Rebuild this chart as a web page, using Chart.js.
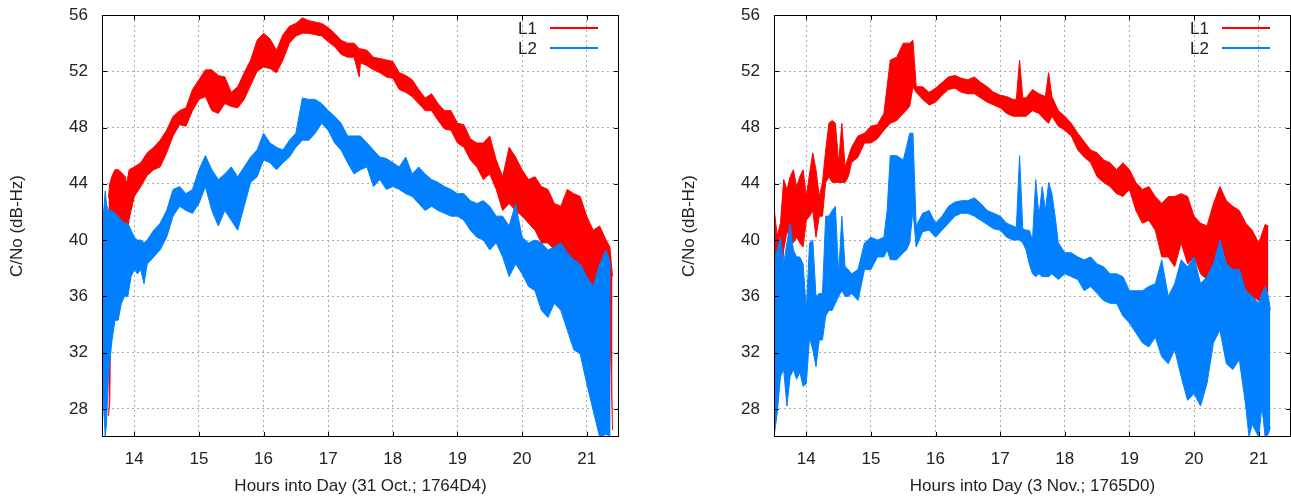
<!DOCTYPE html>
<html>
<head>
<meta charset="utf-8">
<title>C/No L1 L2</title>
<script src="https://cdn.jsdelivr.net/npm/chart.js@4.4.1/dist/chart.umd.min.js"></script>
<style>
  body { margin: 0; background: #fff; }
  canvas { position: absolute; top: 0; }
  #chartOct { left: 0; }
  #chartNov { left: 672px; }
</style>
</head>
<body>
<canvas id="chartOct" width="620" height="500"></canvas>
<canvas id="chartNov" width="620" height="500"></canvas>
<script>
// tick labels
const hourTicks = [14, 15, 16, 17, 18, 19, 20, 21];
const cnoTicks = [28, 32, 36, 40, 44, 48, 52, 56];

// 31 Oct, 1764D4 - L1 noise band (low / high edge)
const octL1Hours = [13.60, 13.62, 13.65, 13.70, 13.75, 13.80, 13.86, 13.88, 13.92,
  14.0, 14.1, 14.2, 14.3, 14.4, 14.5, 14.6, 14.7, 14.8, 14.9, 15.0, 15.1, 15.2, 15.3, 15.4, 15.5, 15.6, 15.7, 15.8, 15.9,
  16.0, 16.1, 16.2, 16.3, 16.4, 16.5, 16.6, 16.7, 16.8, 16.9, 17.0, 17.1, 17.2, 17.3, 17.4, 17.48,
  17.5, 17.6, 17.7, 17.8, 17.9, 18.0, 18.1, 18.2, 18.3, 18.4, 18.5, 18.6, 18.7, 18.8, 18.9,
  19.0, 19.1, 19.2, 19.3, 19.4, 19.5, 19.6, 19.7, 19.8, 19.9, 20.0, 20.1, 20.2, 20.3, 20.4, 20.5, 20.6, 20.7, 20.8, 20.9,
  21.0, 21.1, 21.2, 21.3, 21.36, 21.4];
const octL1High = [43.0, 44.0, 44.5, 45.0, 45.0, 44.8, 44.5, 44.0, 45.0,
  45.2, 45.5, 46.2, 46.6, 47.1, 47.8, 48.8, 49.2, 49.4, 50.7, 51.4, 52.1, 52.1, 51.7, 51.6, 50.5, 50.9, 51.9, 52.8, 54.2,
  54.7, 54.3, 53.5, 54.6, 55.2, 55.4, 55.8, 55.6, 55.5, 55.4, 55.1, 54.7, 54.2, 54.0, 54.0, 53.6,
  53.6, 53.5, 53.0, 52.9, 52.8, 52.7, 51.9, 51.7, 51.4, 50.7, 50.1, 50.4, 49.7, 49.2, 49.2,
  48.3, 48.2, 47.2, 46.9, 46.9, 47.4, 45.7, 44.5, 46.6, 45.9, 45.0, 44.3, 44.5, 43.8, 43.6, 42.6, 42.4, 43.6, 43.3, 43.1,
  41.7, 40.7, 41.0, 40.0, 39.5, 37.4];
const octL1Low = [27.5, 28.5, 40.5, 41.0, 41.5, 41.0, 41.2, 40.0, 41.5,
  43.1, 43.8, 44.6, 45.0, 45.2, 46.2, 47.4, 48.2, 48.1, 49.2, 50.0, 50.2, 49.2, 49.0, 49.7, 49.5, 49.4, 50.0, 51.0, 52.0,
  52.3, 52.2, 51.9, 52.8, 54.0, 54.5, 54.7, 54.7, 54.6, 54.5, 54.1, 53.75, 53.2, 53.0, 53.0, 51.6,
  52.6, 52.4, 52.1, 51.9, 51.6, 51.5, 50.7, 50.5, 50.2, 49.7, 49.2, 49.2, 48.5, 47.9, 47.8,
  46.9, 46.6, 45.7, 45.2, 44.3, 44.7, 43.6, 42.1, 42.6, 42.1, 41.7, 41.2, 40.7, 39.8, 39.8, 39.3, 39.3, 38.8, 38.3, 37.6,
  37.4, 36.0, 35.7, 36.4, 34.0, 26.5];

// 31 Oct - L2
const octL2Hours = [13.50, 13.52, 13.55, 13.57, 13.60, 13.65, 13.70, 13.75, 13.80, 13.85, 13.90, 13.95,
  14.0, 14.05, 14.1, 14.15, 14.2, 14.3, 14.4, 14.5, 14.6, 14.7, 14.8, 14.9,
  15.0, 15.1, 15.2, 15.3, 15.4, 15.5, 15.6, 15.7, 15.8, 15.9, 16.0, 16.1, 16.2, 16.3, 16.4, 16.5, 16.6, 16.7, 16.8, 16.9,
  17.0, 17.1, 17.2, 17.3, 17.4, 17.5, 17.6, 17.7, 17.8, 17.9, 18.0, 18.1, 18.2, 18.3, 18.4, 18.5, 18.6, 18.7, 18.8, 18.9,
  19.0, 19.1, 19.2, 19.3, 19.4, 19.5, 19.6, 19.7, 19.8, 19.9, 20.0, 20.1, 20.2, 20.3, 20.4, 20.5, 20.6, 20.7, 20.8, 20.9,
  21.0, 21.1, 21.2, 21.3, 21.37];
const octL2High = [40.0, 41.7, 43.5, 42.5, 42.1, 42.1, 41.9, 41.7, 41.4, 41.2, 41.2, 40.7,
  40.2, 40.0, 40.0, 39.8, 40.0, 40.7, 41.2, 42.1, 43.6, 43.8, 43.3, 43.6,
  45.0, 46.0, 45.0, 44.3, 44.7, 45.2, 44.5, 45.2, 45.9, 46.4, 47.6, 46.9, 46.6, 46.4, 47.1, 47.6, 50.1, 50.0, 50.0, 49.7,
  49.2, 48.8, 48.3, 47.4, 47.4, 47.4, 46.9, 46.4, 45.9, 45.8, 45.5, 45.2, 45.9, 44.7, 45.2, 44.7, 44.3, 44.1, 43.8, 43.6,
  43.3, 43.3, 42.8, 42.6, 42.8, 42.4, 41.7, 41.7, 41.0, 42.6, 40.2, 39.8, 40.0, 39.8, 39.3, 39.5, 39.8, 39.1, 38.6, 38.3,
  37.4, 36.7, 38.3, 39.3, 38.3];
const octL2Low = [29.8, 28.6, 26.0, 27.0, 30.3, 32.7, 34.3, 34.3, 35.5, 36.0, 36.0, 37.4,
  37.9, 37.6, 37.9, 36.9, 38.3, 38.8, 39.3, 40.2, 41.7, 42.4, 42.1, 41.9,
  42.6, 43.8, 42.1, 41.0, 42.1, 41.4, 40.7, 42.4, 44.1, 44.5, 45.7, 45.5, 45.0, 45.5, 45.9, 46.6, 47.1, 47.1, 47.6, 48.3,
  47.8, 46.9, 46.4, 45.5, 44.7, 45.0, 45.2, 43.8, 44.3, 43.6, 43.8, 43.6, 43.3, 43.1, 42.6, 42.1, 42.4, 42.1, 41.9, 41.7,
  41.7, 41.4, 40.7, 40.2, 40.0, 39.3, 39.8, 38.8, 37.4, 38.3, 37.6, 36.7, 36.4, 35.0, 34.5, 35.5, 35.0, 33.6, 32.2, 31.9,
  29.8, 27.9, 26.0, 26.2, 26.0];

// 3 Nov, 1765D0 - L1
const novL1Hours = [13.50, 13.55, 13.60, 13.65, 13.70, 13.75, 13.80, 13.85, 13.90, 13.95,
  14.0, 14.05, 14.1, 14.15, 14.2, 14.25, 14.3, 14.35, 14.4, 14.45, 14.5, 14.55, 14.6, 14.65, 14.7, 14.8, 14.9,
  15.0, 15.1, 15.2, 15.3, 15.4, 15.5, 15.6, 15.65, 15.7, 15.8, 15.9,
  16.0, 16.1, 16.2, 16.3, 16.4, 16.5, 16.6, 16.7, 16.8, 16.9,
  17.0, 17.1, 17.2, 17.25, 17.3, 17.35, 17.4, 17.5, 17.6, 17.7, 17.75, 17.8, 17.9,
  18.0, 18.1, 18.2, 18.3, 18.4, 18.5, 18.6, 18.7, 18.8, 18.9,
  19.0, 19.1, 19.2, 19.3, 19.4, 19.5, 19.6, 19.7, 19.8, 19.9,
  20.0, 20.1, 20.2, 20.3, 20.4, 20.5, 20.6, 20.7, 20.8, 20.9, 21.0, 21.1, 21.15];
const novL1High = [42.3, 40.3, 41.2, 44.3, 43.6, 44.5, 45.0, 43.8, 44.5, 45.0,
  43.1, 44.7, 46.2, 45.0, 43.1, 44.1, 46.4, 48.3, 48.5, 48.3, 45.5, 48.3, 45.2, 45.9, 46.6, 47.4, 47.6,
  48.1, 48.2, 49.0, 52.8, 53.0, 54.0, 54.0, 54.2, 50.9, 50.9, 50.5,
  50.8, 51.2, 51.6, 51.7, 51.5, 51.4, 51.6, 51.2, 50.9, 50.5,
  50.3, 50.2, 50.0, 50.0, 52.8, 50.1, 50.1, 50.7, 50.4, 50.2, 51.9, 50.2, 49.2,
  48.8, 48.3, 47.6, 47.0, 46.4, 46.2, 45.7, 45.5, 45.0, 45.5,
  45.0, 44.1, 43.6, 43.8, 43.1, 42.6, 43.1, 43.1, 43.3, 43.1,
  41.7, 41.2, 41.0, 42.6, 43.8, 42.8, 42.4, 42.1, 41.2, 40.7, 39.8, 41.1, 41.0];
const novL1Low = [38.3, 36.0, 36.0, 39.3, 40.6, 40.2, 39.8, 40.2, 39.8, 39.5,
  41.4, 41.7, 42.1, 40.2, 41.7, 41.7, 44.1, 44.5, 44.1, 44.1, 44.1, 44.1, 44.1, 44.5, 45.5, 45.9, 46.9,
  46.9, 47.2, 47.8, 48.3, 48.5, 49.0, 49.5, 50.9, 50.5, 50.0, 49.6,
  49.8, 50.3, 50.7, 50.8, 50.5, 50.4, 50.4, 50.1, 49.8, 49.6,
  49.4, 49.0, 48.8, 48.8, 48.8, 48.8, 48.8, 49.2, 49.0, 48.5, 48.3, 48.8, 48.1,
  47.8, 47.4, 46.4, 45.9, 45.5, 44.5, 44.1, 43.8, 43.3, 43.1,
  43.6, 42.1, 41.2, 41.4, 40.7, 38.8, 38.8, 38.1, 39.8, 38.3,
  38.8, 37.6, 37.2, 38.3, 39.8, 38.3, 37.9, 36.7, 36.4, 36.0, 35.7, 36.2, 34.6];

// 3 Nov - L2
const novL2Hours = [13.50, 13.55, 13.60, 13.65, 13.70, 13.75, 13.80, 13.85, 13.90, 13.95,
  14.0, 14.05, 14.1, 14.15, 14.2, 14.25, 14.3, 14.35, 14.4, 14.45, 14.5, 14.55, 14.6, 14.65, 14.7, 14.8, 14.9,
  15.0, 15.1, 15.2, 15.25, 15.3, 15.4, 15.5, 15.55, 15.6, 15.65, 15.7, 15.8, 15.9,
  16.0, 16.1, 16.2, 16.3, 16.4, 16.5, 16.6, 16.7, 16.8, 16.9,
  17.0, 17.1, 17.2, 17.25, 17.3, 17.35, 17.4, 17.45, 17.5, 17.55, 17.6, 17.65, 17.7, 17.75, 17.8, 17.85, 17.9,
  18.0, 18.1, 18.2, 18.3, 18.4, 18.5, 18.6, 18.7, 18.8, 18.9,
  19.0, 19.1, 19.2, 19.3, 19.4, 19.5, 19.6, 19.7, 19.8, 19.9,
  20.0, 20.1, 20.2, 20.3, 20.4, 20.5, 20.6, 20.7, 20.8, 20.85, 20.9,
  21.0, 21.05, 21.1, 21.15, 21.18];
const novL2High = [38.6, 39.3, 40.2, 38.3, 39.8, 41.2, 39.3, 38.8, 38.8, 38.3,
  35.0, 39.8, 40.0, 36.0, 36.2, 36.2, 41.7, 41.7, 42.1, 42.4, 37.6, 41.7, 38.1, 37.9, 37.6, 37.9, 39.8,
  40.2, 40.0, 40.2, 42.1, 46.0, 46.0, 45.7, 46.6, 47.6, 47.6, 41.0, 41.9, 42.1,
  41.2, 41.7, 42.4, 42.7, 42.8, 42.8, 43.0, 42.6, 42.1, 41.9,
  41.7, 41.2, 41.0, 40.9, 46.0, 40.8, 40.7, 40.7, 40.0, 44.3, 41.7, 43.8, 42.1, 44.1, 43.3, 41.7, 39.8,
  39.1, 39.1, 38.8, 38.6, 38.8, 38.3, 38.1, 37.6, 37.6, 37.4,
  36.4, 36.4, 36.4, 36.7, 36.9, 38.6, 36.0, 36.9, 38.6, 38.1,
  38.8, 36.9, 37.4, 38.3, 40.0, 38.3, 37.9, 37.9, 36.4, 36.2, 36.0,
  35.5, 36.2, 36.7, 36.0, 35.0];
const novL2Low = [26.0, 27.7, 30.3, 30.8, 28.2, 30.3, 30.8, 30.1, 30.6, 29.6,
  29.8, 33.1, 32.2, 31.0, 32.9, 32.9, 34.6, 35.0, 35.0, 35.5, 36.0, 36.4, 36.0, 36.0, 36.2, 35.7, 37.9,
  37.9, 38.8, 38.8, 39.3, 38.6, 38.6, 39.1, 39.3, 39.8, 42.1, 39.5, 40.6, 40.7,
  40.2, 40.7, 41.2, 41.7, 41.9, 41.9, 41.7, 41.4, 41.1, 40.8,
  40.7, 40.2, 40.0, 40.0, 40.0, 39.8, 39.3, 38.3, 37.6, 37.4, 37.6, 37.4, 37.4, 37.4, 37.6, 37.4, 37.2,
  37.6, 37.4, 37.2, 36.4, 36.7, 36.2, 35.7, 35.5, 35.5, 34.6,
  34.1, 33.4, 32.7, 32.4, 33.1, 31.7, 31.2, 32.2, 30.3, 28.6,
  29.1, 28.2, 29.8, 32.7, 33.6, 31.2, 30.8, 31.5, 28.2, 26.0, 26.9,
  26.0, 28.2, 26.0, 26.2, 26.7];

const red = '#ff0000';
const blue = '#0080ff';
const textColor = '#222';
const fontFamily = '"Liberation Sans", Arial, sans-serif';

const toPoints = (hours, vals) => hours.map((h, i) => ({ x: h, y: vals[i] }));

// frame, inward tick marks and gnuplot-style key
const framePlugin = {
  id: 'frame',
  afterDraw(chart) {
    const { ctx, chartArea: a, scales: { x, y } } = chart;
    ctx.save();
    ctx.strokeStyle = '#000';
    ctx.lineWidth = 1;
    ctx.strokeRect(Math.round(a.left) + 0.5, Math.round(a.top) + 0.5,
      Math.round(a.right - a.left) - 1, Math.round(a.bottom - a.top) - 1);
    ctx.beginPath();
    hourTicks.forEach(v => {
      const px = Math.round(x.getPixelForValue(v)) + 0.5;
      ctx.moveTo(px, a.bottom); ctx.lineTo(px, a.bottom - 5);
      ctx.moveTo(px, a.top); ctx.lineTo(px, a.top + 5);
    });
    cnoTicks.forEach(v => {
      const py = Math.round(y.getPixelForValue(v)) + 0.5;
      ctx.moveTo(a.left, py); ctx.lineTo(a.left + 5, py);
      ctx.moveTo(a.right, py); ctx.lineTo(a.right - 5, py);
    });
    ctx.stroke();

    // key
    ctx.font = '17px ' + fontFamily;
    ctx.textAlign = 'right';
    ctx.textBaseline = 'middle';
    const keys = chart.data.datasets.filter(d => d.key);
    keys.forEach((d, i) => {
      const ky = a.top + 13 + i * 20;
      ctx.fillStyle = textColor;
      ctx.fillText(d.label, a.right - 82, ky + 1);
      ctx.strokeStyle = d.borderColor;
      ctx.lineWidth = 2;
      ctx.beginPath();
      ctx.moveTo(a.right - 69, ky);
      ctx.lineTo(a.right - 21, ky);
      ctx.stroke();
    });
    ctx.restore();
  }
};

function makeChart(id, xTitle, l1h, l1lo, l1hi, l2h, l2lo, l2hi) {
  const band = (label, color, data, fill, order, key) => ({
    label: label,
    data: data,
    borderColor: color,
    backgroundColor: color,
    borderWidth: 1,
    pointRadius: 0,
    tension: 0,
    fill: fill,
    order: order,
    key: key
  });
  return new Chart(document.getElementById(id).getContext('2d'), {
    type: 'line',
    data: {
      datasets: [
        band('L1', red, toPoints(l1h, l1hi), false, 2, true),
        band('L1 low', red, toPoints(l1h, l1lo), '-1', 2, false),
        band('L2', blue, toPoints(l2h, l2hi), false, 1, true),
        band('L2 low', blue, toPoints(l2h, l2lo), '-1', 1, false)
      ]
    },
    options: {
      responsive: false,
      animation: false,
      layout: { padding: { left: 0, top: 15, right: 1, bottom: 0 } },
      plugins: { legend: { display: false }, tooltip: { enabled: false } },
      scales: {
        x: {
          type: 'linear',
          min: 13.5,
          max: 21.5,
          afterBuildTicks: s => { s.ticks = hourTicks.map(v => ({ value: v })); },
          afterFit: s => { s.height = 63; s.paddingLeft = 0; s.paddingRight = 0; },
          grid: { color: '#aaaaaa', drawTicks: false },
          border: { display: false, dash: [2, 3] },
          ticks: { color: textColor, padding: 12, autoSkip: false, maxRotation: 0,
                   font: { family: fontFamily, size: 17 } },
          title: { display: true, text: xTitle, color: textColor, padding: { top: 0, bottom: 3 },
                   font: { family: fontFamily, size: 17 } }
        },
        y: {
          min: 26,
          max: 56,
          afterBuildTicks: s => { s.ticks = cnoTicks.map(v => ({ value: v })); },
          afterFit: s => { s.width = 102; s.paddingTop = 0; s.paddingBottom = 0; },
          grid: { color: '#aaaaaa', drawTicks: false },
          border: { display: false, dash: [2, 3] },
          ticks: { color: textColor, padding: 14, autoSkip: false,
                   font: { family: fontFamily, size: 17 } },
          title: { display: true, text: 'C/No (dB-Hz)', color: textColor, padding: { top: 7, bottom: 0 },
                   font: { family: fontFamily, size: 17 } }
        }
      }
    },
    plugins: [framePlugin]
  });
}

window.addEventListener('load', () => {
  makeChart('chartOct', 'Hours into Day (31 Oct.; 1764D4)',
    octL1Hours, octL1Low, octL1High, octL2Hours, octL2Low, octL2High);
  makeChart('chartNov', 'Hours into Day (3 Nov.; 1765D0)',
    novL1Hours, novL1Low, novL1High, novL2Hours, novL2Low, novL2High);
});
</script>
</body>
</html>
